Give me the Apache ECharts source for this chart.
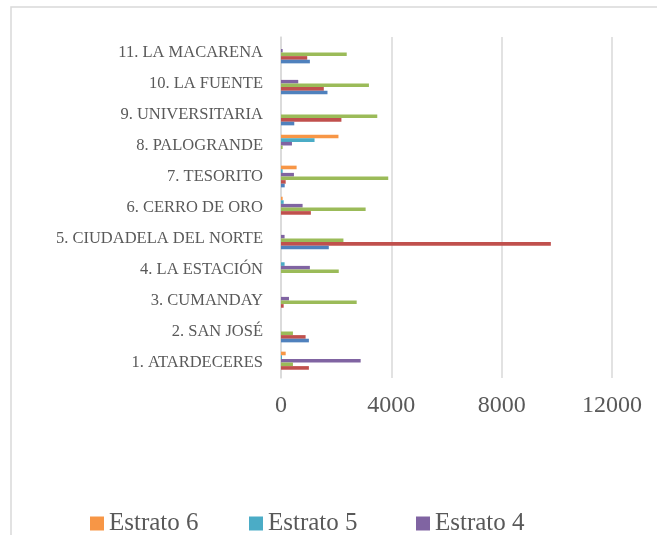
<!DOCTYPE html>
<html>
<head>
<meta charset="utf-8">
<script src="https://cdn.jsdelivr.net/npm/echarts@6/dist/echarts.min.js"></script>
<style>
  html, body { margin: 0; padding: 0; background: #ffffff; }
  #chart { width: 657px; height: 535px; }
</style>
</head>
<body>
<div id="chart"></div>
<script>
// categories, bottom to top
const barrios = ['1. ATARDECERES', '2. SAN JOSÉ', '3. CUMANDAY', '4. LA ESTACIÓN', '5. CIUDADELA DEL NORTE',
    '6. CERRO DE ORO', '7. TESORITO', '8. PALOGRANDE', '9. UNIVERSITARIA', '10. LA FUENTE', '11. LA MACARENA'];

const estrato1 = [0, 1011, 0, 0, 1733, 0, 134, 0, 481, 1685, 1047];
const estrato2 = [1011, 892, 97, 0, 9783, 1083, 170, 0, 2190, 1552, 950];
const estrato3 = [433, 433, 2744, 2094, 2263, 3068, 3888, 60, 3490, 3188, 2383];
const estrato4 = [2888, 0, 289, 1047, 130, 783, 469, 397, 0, 625, 60];
const estrato5 = [36, 0, 0, 130, 0, 97, 60, 1216, 0, 0, 0];
const estrato6 = [170, 0, 0, 0, 0, 60, 566, 2083, 0, 0, 0];

const xTicks = [0, 4000, 8000, 12000];

const font = 'Liberation Serif';
const grey = '#595959';

const chart = echarts.init(document.getElementById('chart'));

const mkSeries = (name, data, color) => ({
    name: name,
    type: 'bar',
    data: data,
    barGap: '0%',
    barCategoryGap: '30%',
    itemStyle: {color: color},
    animation: false
});

const mkLegend = (name, left) => ({
    data: [name],
    left: left,
    top: 506,
    itemWidth: 14,
    itemHeight: 14,
    itemGap: 0,
    icon: 'rect',
    textStyle: {fontFamily: font, fontSize: 25, color: grey}
});

chart.setOption({
    backgroundColor: '#ffffff',
    animation: false,
    graphic: [{
        type: 'rect',
        shape: {x: 11, y: 7, width: 700, height: 600},
        style: {fill: 'none', stroke: '#d9d9d9', lineWidth: 1.5},
        silent: true
    }],
    legend: [
        mkLegend('Estrato 6', 85),
        mkLegend('Estrato 5', 244),
        mkLegend('Estrato 4', 411)
    ],
    grid: {left: 281, right: 45, top: 37, bottom: 157, containLabel: false},
    xAxis: {
        type: 'value',
        min: xTicks[0],
        max: xTicks[xTicks.length - 1],
        interval: 4000,
        axisLine: {show: false},
        axisTick: {show: false},
        axisLabel: {fontFamily: font, fontSize: 24, color: grey, margin: 16, formatter: v => String(v)},
        splitLine: {lineStyle: {color: '#d9d9d9', width: 1.5}}
    },
    yAxis: {
        type: 'category',
        data: barrios,
        axisLine: {lineStyle: {color: '#d9d9d9', width: 1.5}},
        axisTick: {show: false},
        axisLabel: {fontFamily: font, fontSize: 16.5, color: grey, margin: 18}
    },
    series: [
        mkSeries('Estrato 6', estrato6, '#f79646'),
        mkSeries('Estrato 5', estrato5, '#4bacc6'),
        mkSeries('Estrato 4', estrato4, '#8064a2'),
        mkSeries('Estrato 3', estrato3, '#9bbb59'),
        mkSeries('Estrato 2', estrato2, '#c0504d'),
        mkSeries('Estrato 1', estrato1, '#4f81bd')
    ]
});
</script>
</body>
</html>
